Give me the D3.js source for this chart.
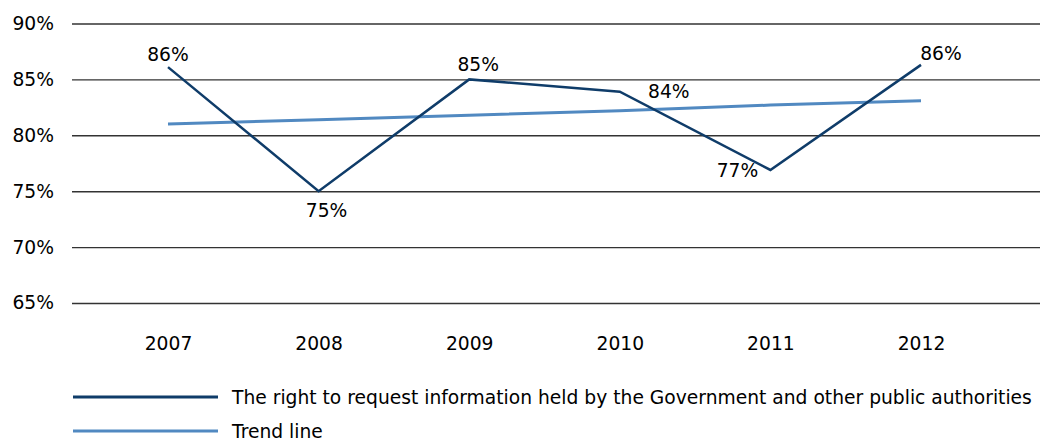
<!DOCTYPE html>
<html>
<head>
<meta charset="utf-8">
<script src="https://cdn.jsdelivr.net/npm/d3@7"></script>
<style>
  html, body { margin: 0; padding: 0; background: #fff; }
  svg { display: block; font-family: "DejaVu Sans", Verdana, sans-serif; }
</style>
</head>
<body>
<svg id="chart" width="1042" height="441"></svg>
<script>
// Survey years and shares of respondents
const years = ["2007", "2008", "2009", "2010", "2011", "2012"];
const rightToRequest = [86.1, 75.0, 85.0, 83.9, 76.9, 86.3];
const trendLine = [81.0, 81.4, 81.8, 82.2, 82.7, 83.1];
const yTicks = [65, 70, 75, 80, 85, 90];
const seriesNames = [
  "The right to request information held by the Government and other public authorities",
  "Trend line"
];
// Where each value label sits relative to its point
const labelOffsets = [[0, -6], [8, 26], [9, -8], [49, 6], [-33, 7], [20, -5]];

const colors = { main: "#0f3c69", trend: "#5189c1", grid: "#333" };
const fontSize = 18.7;

const svg = d3.select("#chart");

const x = d3.scalePoint().domain(years).range([168, 921]);
const y = d3.scaleLinear().domain([65, 90]).range([303, 23.5]);
const gridLeft = 72, gridRight = 1040;

// Horizontal gridlines with percentage labels
const yAxis = d3.axisLeft(y)
  .tickValues(yTicks)
  .tickSize(-(gridRight - gridLeft))
  .tickPadding(18)
  .tickFormat(d => d + "%");
const gy = svg.append("g")
  .attr("transform", `translate(${gridLeft},0)`)
  .call(yAxis);
gy.select(".domain").remove();
gy.selectAll(".tick line").attr("stroke", colors.grid).attr("stroke-width", 1.4);
gy.selectAll(".tick text")
  .attr("fill", "#000")
  .attr("font-size", fontSize)
  .attr("font-family", "DejaVu Sans, Verdana, sans-serif");

// Year labels
const xAxis = d3.axisBottom(x).tickSize(0).tickPadding(0);
const gx = svg.append("g")
  .attr("transform", "translate(0,337)")
  .call(xAxis);
gx.select(".domain").remove();
gx.selectAll(".tick text")
  .attr("fill", "#000")
  .attr("font-size", fontSize)
  .attr("font-family", "DejaVu Sans, Verdana, sans-serif");

const line = d3.line()
  .x((d, i) => x(years[i]))
  .y(d => y(d));

svg.append("path")
  .datum(trendLine)
  .attr("fill", "none")
  .attr("stroke", colors.trend)
  .attr("stroke-width", 3)
  .attr("d", line);

svg.append("path")
  .datum(rightToRequest)
  .attr("fill", "none")
  .attr("stroke", colors.main)
  .attr("stroke-width", 2.5)
  .attr("stroke-linejoin", "miter")
  .attr("d", line);

// Value labels
svg.append("g")
  .selectAll("text")
  .data(rightToRequest)
  .join("text")
  .attr("x", (d, i) => x(years[i]) + labelOffsets[i][0])
  .attr("y", (d, i) => y(d) + labelOffsets[i][1])
  .attr("text-anchor", "middle")
  .attr("font-size", fontSize)
  .attr("fill", "#000")
  .text(d => Math.round(d) + "%");

// Legend
const legendRows = [
  { name: seriesNames[0], color: colors.main, width: 3, y: 397 },
  { name: seriesNames[1], color: colors.trend, width: 3, y: 431 }
];
const lg = svg.append("g");
const row = lg.selectAll("g").data(legendRows).join("g")
  .attr("transform", d => `translate(0,${d.y})`);
row.append("line")
  .attr("x1", 73).attr("x2", 218)
  .attr("stroke", d => d.color)
  .attr("stroke-width", d => d.width);
row.append("text")
  .attr("x", 232)
  .attr("dy", "0.35em")
  .attr("font-size", fontSize)
  .attr("fill", "#000")
  .text(d => d.name);
</script>
</body>
</html>
